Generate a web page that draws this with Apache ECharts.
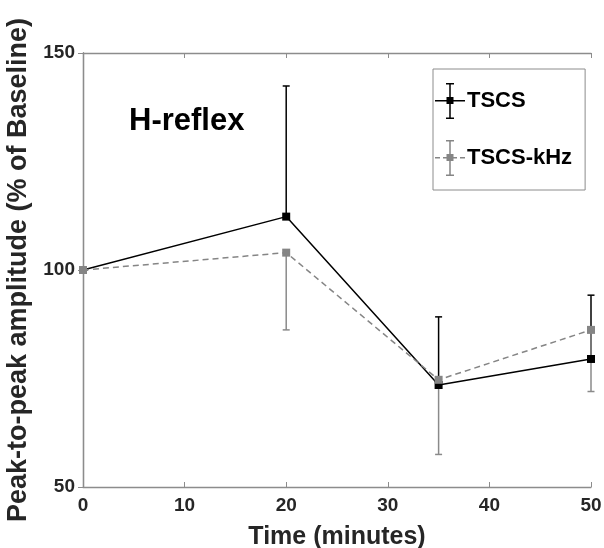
<!DOCTYPE html>
<html>
<head>
<meta charset="utf-8">
<title>H-reflex</title>
<script src="https://cdn.jsdelivr.net/npm/echarts@6/dist/echarts.min.js"></script>
</head>
<body style="margin:0">
<div id="chart" style="width:604px;height:548px"></div>
<script>
// data
var time = [0, 20, 35, 50];
var tscs = [100, 112.3, 73.5, 79.5];
var tscsErr = [0, 30.1, 15.7, 14.7];   // drawn upward
var khz = [100, 104.0, 74.7, 86.2];
var khzErr = [0, 17.8, 17.2, 14.2];    // drawn downward
var xTicks = [0, 10, 20, 30, 40, 50];
var yTicks = [50, 100, 150];

var FONT = '"Liberation Sans", Arial, Helvetica, sans-serif';
var AXIS = '#8c8c8c';

function pairs(ys) {
  return time.map(function (t, i) { return [t, ys[i]]; });
}
function errData(ys, err, dir) {
  return time.map(function (t, i) { return [t, ys[i], ys[i] + dir * err[i]]; });
}

// one sided error bar with a cap
function errRender(color) {
  return function (params, api) {
    if (api.value(1) === api.value(2)) return null;
    var a = api.coord([api.value(0), api.value(1)]);
    var b = api.coord([api.value(0), api.value(2)]);
    var st = {stroke: color, lineWidth: 1.5};
    return {
      type: 'group',
      children: [
        {type: 'line', shape: {x1: a[0], y1: a[1], x2: b[0], y2: b[1]}, style: st},
        {type: 'line', shape: {x1: b[0] - 3.5, y1: b[1], x2: b[0] + 3.5, y2: b[1]}, style: st}
      ]
    };
  };
}

var iconSolid = 'path://M0,17h30v1.5h-30Z M14.25,0h1.5v36h-1.5Z M11,0h8v1.5h-8Z M11,34.5h8v1.5h-8Z M11.5,14h7v7h-7Z';
var iconDash = 'path://M0,17h5v1.5h-5Z M8,17h4v1.5h-4Z M18,17h4v1.5h-4Z M25,17h5v1.5h-5Z M14.25,0h1.5v36h-1.5Z M11,0h8v1.5h-8Z M11,34.5h8v1.5h-8Z M11.5,14h7v7h-7Z';

var labelStyle = {color: '#262626', fontSize: 19, fontWeight: 'bold', fontFamily: FONT};
var lineStyle = {lineStyle: {color: AXIS, width: 1.3}};

var myChart = echarts.init(document.getElementById('chart'));
var option = {
  animation: false,
  backgroundColor: '#fff',
  title: {
    text: 'H-reflex',
    left: 124, top: 101,
    textStyle: {fontSize: 31, fontWeight: 'bold', color: '#000', fontFamily: FONT}
  },
  grid: {left: 83, right: 13, top: 53, bottom: 61, containLabel: false, outerBoundsMode: 'none'},
  legend: {
    orient: 'vertical',
    left: 433, top: 69,
    padding: [14, 13, 14, 2],
    itemGap: 21,
    itemWidth: 30, itemHeight: 36,
    borderColor: '#8c8c8c', borderWidth: 1,
    backgroundColor: '#fff',
    textStyle: {fontSize: 22, fontWeight: 'bold', color: '#000', fontFamily: FONT, padding: [0, 0, 0, -3]},
    data: [
      {name: 'TSCS', icon: iconSolid, itemStyle: {color: '#000'}},
      {name: 'TSCS-kHz', icon: iconDash, itemStyle: {color: '#858585'}}
    ]
  },
  xAxis: [{
    type: 'value', min: 0, max: 50, interval: 10,
    name: 'Time (minutes)', nameLocation: 'middle', nameGap: 38,
    nameTextStyle: {fontSize: 25, fontWeight: 'bold', color: '#262626', fontFamily: FONT},
    axisLine: lineStyle,
    axisTick: {inside: true, length: 5, lineStyle: {color: AXIS}},
    axisLabel: Object.assign({margin: 9}, labelStyle),
    splitLine: {show: false}
  }, {
    type: 'value', min: 0, max: 50, interval: 10, position: 'top',
    axisLine: lineStyle,
    axisTick: {inside: true, length: 5, lineStyle: {color: AXIS}},
    axisLabel: {show: false},
    splitLine: {show: false}
  }],
  yAxis: [{
    type: 'value', min: 50, max: 150, interval: 50,
    name: 'Peak-to-peak amplitude (% of Baseline)', nameLocation: 'middle', nameGap: 46,
    nameTextStyle: {fontSize: 27, fontWeight: 'bold', color: '#262626', fontFamily: FONT},
    axisLine: lineStyle,
    axisTick: {inside: true, length: 5, lineStyle: {color: AXIS}},
    axisLabel: Object.assign({margin: 8}, labelStyle),
    splitLine: {show: false}
  }, {
    type: 'value', min: 50, max: 150, interval: 50, position: 'right',
    axisLine: lineStyle,
    axisTick: {inside: true, length: 5, lineStyle: {color: AXIS}},
    axisLabel: {show: false},
    splitLine: {show: false}
  }],
  series: [
    {
      name: 'TSCS', type: 'custom', renderItem: errRender('#000'),
      data: errData(tscs, tscsErr, 1), z: 2, silent: true,
      encode: {x: 0, y: [1, 2]}
    },
    {
      name: 'TSCS-kHz', type: 'custom', renderItem: errRender('#8a8a8a'),
      data: errData(khz, khzErr, -1), z: 3, silent: true,
      encode: {x: 0, y: [1, 2]}
    },
    {
      name: 'TSCS', type: 'line', data: pairs(tscs), z: 4,
      symbol: 'rect', symbolSize: 8,
      lineStyle: {color: '#000', width: 1.5},
      itemStyle: {color: '#000'}
    },
    {
      name: 'TSCS-kHz', type: 'line', data: pairs(khz), z: 5,
      symbol: 'rect', symbolSize: 8,
      lineStyle: {color: '#858585', width: 1.5, type: [6, 4]},
      itemStyle: {color: '#858585'}
    }
  ]
};
myChart.setOption(option);
</script>
</body>
</html>
